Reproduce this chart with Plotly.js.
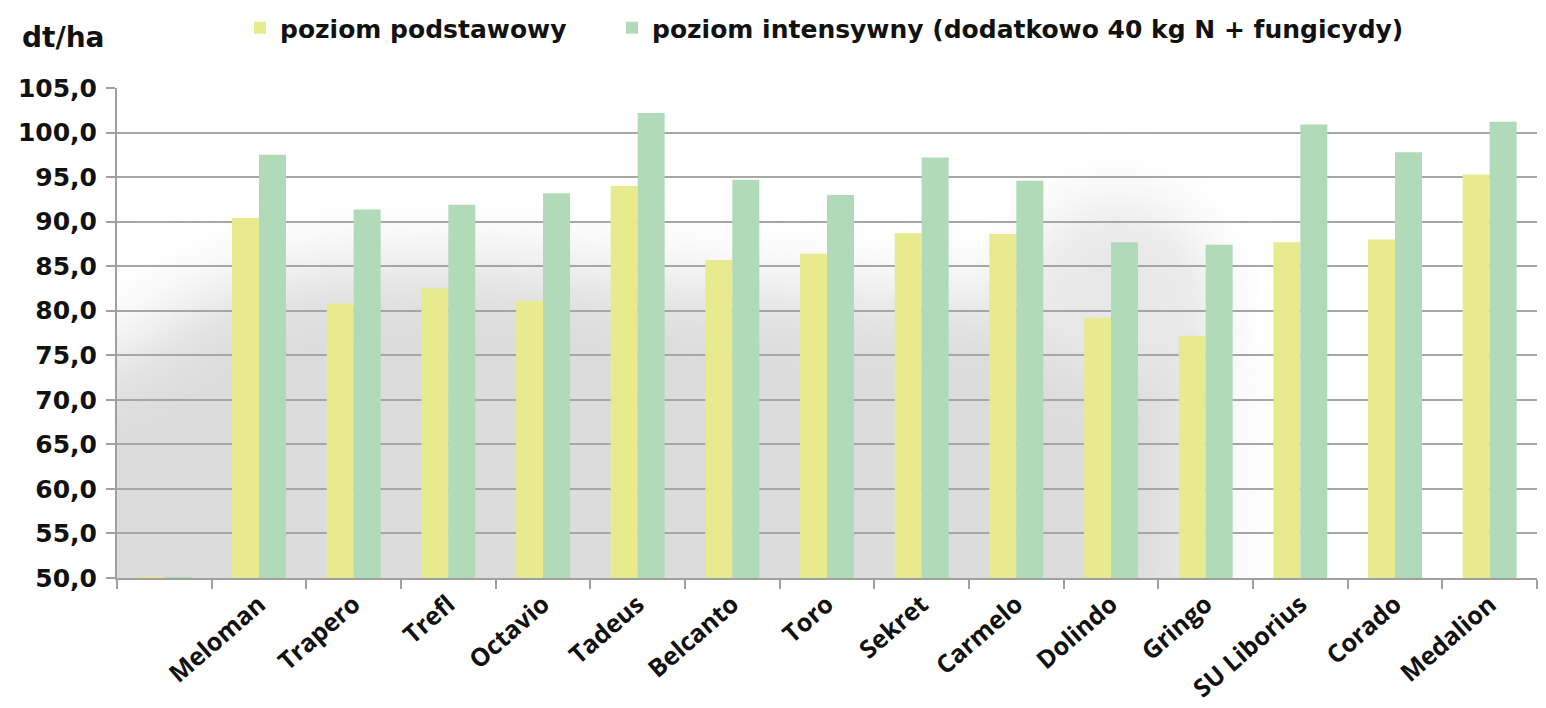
<!DOCTYPE html>
<html>
<head>
<meta charset="utf-8">
<script src="https://cdn.plot.ly/plotly-3.0.1.min.js"></script>
<style>
  html, body { margin: 0; padding: 0; background: #ffffff; }
  #chart { width: 1546px; height: 708px; }
</style>
</head>
<body>
<div id="chart"></div>
<script>
// ---- data ----
const categories = [' ', 'Meloman', 'Trapero', 'Trefl', 'Octavio', 'Tadeus', 'Belcanto', 'Toro', 'Sekret', 'Carmelo', 'Dolindo', 'Gringo', 'SU Liborius', 'Corado', 'Medalion'];
const basicLevel = [50.15, 90.4, 80.8, 82.5, 81.1, 94.0, 85.7, 86.4, 88.7, 88.6, 79.2, 77.2, 87.7, 88.0, 95.3];
const intensiveLevel = [50.15, 97.5, 91.35, 91.9, 93.2, 102.2, 94.7, 93.0, 97.2, 94.6, 87.7, 87.4, 100.9, 97.8, 101.2];
const seriesNames = ['poziom podstawowy', 'poziom intensywny (dodatkowo 40 kg N + fungicydy)'];
const yTicks = [50, 55, 60, 65, 70, 75, 80, 85, 90, 95, 100, 105];
const unitLabel = 'dt/ha';

// decorative soft grey shading behind the bars (as in the original picture)
const bgSvg =
  '<svg xmlns="http://www.w3.org/2000/svg" width="1420" height="490" viewBox="0 0 1420 490" preserveAspectRatio="none">' +
  '<defs><filter id="b" x="-50%" y="-50%" width="200%" height="200%"><feGaussianBlur stdDeviation="38"/></filter>' +
  '<filter id="b2" x="-50%" y="-50%" width="200%" height="200%"><feGaussianBlur stdDeviation="30"/></filter></defs>' +
  '<path filter="url(#b)" fill="#dcdcdc" d="M-80,560 L-80,280 L0,275 L80,210 L200,180 L380,175 L560,195 L700,205 L880,210 L1000,215 L1085,205 L1085,560 Z"/>' +
  '<ellipse filter="url(#b2)" fill="#e8e8e8" cx="1000" cy="200" rx="95" ry="90"/>' +
  '</svg>';
const bgUri = 'data:image/svg+xml;charset=utf-8,' + encodeURIComponent(bgSvg);

const traces = [
  {
    type: 'bar', name: seriesNames[0], x: categories, y: basicLevel,
    marker: { color: '#e7ea8d', line: { width: 0 } },
    legend: 'legend'
  },
  {
    type: 'bar', name: seriesNames[1], x: categories, y: intensiveLevel,
    marker: { color: '#b1dab8', line: { width: 0 } },
    legend: 'legend2'
  }
];

const legendCommon = {
  orientation: 'h',
  xref: 'container', yref: 'container',
  xanchor: 'left', yanchor: 'top',
  bgcolor: 'rgba(0,0,0,0)',
  itemwidth: 30
};

const layout = {
  width: 1546, height: 708,
  margin: { l: 117, r: 9, t: 88, b: 130 },
  paper_bgcolor: '#ffffff',
  plot_bgcolor: 'rgba(0,0,0,0)',
  separators: ', ',
  barmode: 'group',
  bargap: 0.43,
  bargroupgap: 0,
  showlegend: true,
  legend: Object.assign({}, legendCommon, {
    x: 240 / 1546, y: 1 - 5 / 708,
    font: { family: 'DejaVu Sans', size: 25, color: '#111111', weight: 'bold' }
  }),
  legend2: Object.assign({}, legendCommon, {
    x: 612 / 1546, y: 1 - 5 / 708,
    font: { family: 'DejaVu Sans', size: 25, color: '#111111', weight: 'bold' }
  }),
  xaxis: {
    type: 'category',
    categoryorder: 'array', categoryarray: categories,
    showline: true, linecolor: '#a0a0a0', linewidth: 2,
    ticks: 'outside', ticklen: 9, tickwidth: 2, tickcolor: '#a0a0a0',
    tickson: 'boundaries',
    showgrid: false,
    tickangle: -41,
    tickfont: { family: 'Open Sans', size: 25, color: '#111111', weight: 'bold' },
    automargin: false
  },
  yaxis: {
    range: [50, 105],
    tickvals: yTicks,
    tickformat: '.1f',
    showline: true, linecolor: '#a0a0a0', linewidth: 2,
    ticks: 'outside', ticklen: 9, tickwidth: 2, tickcolor: '#a0a0a0',
    ticklabelstandoff: 4,
    showgrid: true, gridcolor: '#a6a6a6', gridwidth: 2,
    zeroline: false,
    tickfont: { family: 'DejaVu Sans', size: 25, color: '#111111', weight: 'bold' },
    automargin: false
  },
  images: [{
    source: bgUri, xref: 'paper', yref: 'paper',
    x: 0, y: 1, sizex: 1, sizey: 1,
    xanchor: 'left', yanchor: 'top',
    sizing: 'stretch', layer: 'below', opacity: 1
  }],
  annotations: [{
    text: unitLabel, xref: 'paper', yref: 'paper',
    x: -97 / 1420, y: (578 - 56) / 490, xanchor: 'left', yanchor: 'bottom',
    showarrow: false,
    font: { family: 'DejaVu Sans', size: 28, color: '#111111', weight: 'bold' }
  }]
};

Plotly.newPlot('chart', traces, layout, { displayModeBar: false, staticPlot: true });
</script>
</body>
</html>
